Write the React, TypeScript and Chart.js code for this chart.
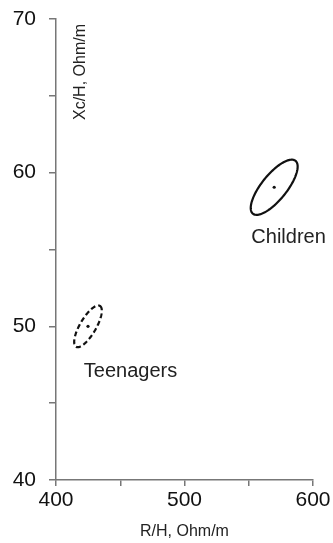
import React, { useEffect, useRef } from "react";
import { Chart, registerables } from "chart.js";

Chart.register(...registerables);

// Group labels and centres (R/H, Xc/H)
const groups = ["Children", "Teenagers"];
const centerR = [569.8, 424.9];
const centerXc = [59.05, 50.0];
// Ellipse half-axis vectors in data units
const majorR = [16.6, 9.3];
const majorXc = [1.72, 1.33];
const minorR = [7.6, 5.4];
const minorXc = [-0.52, -0.27];
// Label anchor positions (data units)
const labelR = [581, 458];
const labelXc = [55.75, 47.05];

const xTicksMin = 400;
const xTicksMax = 600;
const yTicksMin = 40;
const yTicksMax = 70;

const FONT = "'Liberation Sans', Arial, sans-serif";

const ellipsePlugin = {
  id: "ellipses",
  afterDatasetsDraw(chart: any) {
    const ctx = chart.ctx;
    const xs = chart.scales.x;
    const ys = chart.scales.y;
    ctx.save();
    for (let g = 0; g < groups.length; g++) {
      ctx.beginPath();
      const N = 120;
      for (let i = 0; i <= N; i++) {
        const t = (i / N) * Math.PI * 2;
        const r = centerR[g] + majorR[g] * Math.cos(t) + minorR[g] * Math.sin(t);
        const v = centerXc[g] + majorXc[g] * Math.cos(t) + minorXc[g] * Math.sin(t);
        const px = xs.getPixelForValue(r);
        const py = ys.getPixelForValue(v);
        if (i === 0) ctx.moveTo(px, py);
        else ctx.lineTo(px, py);
      }
      ctx.closePath();
      ctx.lineWidth = 2.2;
      ctx.strokeStyle = "#111";
      ctx.setLineDash(g === 1 ? [5, 3] : []);
      ctx.stroke();
    }
    ctx.setLineDash([]);
    ctx.fillStyle = "#222";
    ctx.font = `20px ${FONT}`;
    ctx.textAlign = "center";
    ctx.textBaseline = "middle";
    for (let g = 0; g < groups.length; g++) {
      ctx.fillText(groups[g], xs.getPixelForValue(labelR[g]), ys.getPixelForValue(labelXc[g]));
    }
    // axis titles
    const a = chart.chartArea;
    ctx.font = `16px ${FONT}`;
    ctx.fillText("R/H, Ohm/m", (a.left + a.right) / 2, a.bottom + 52);
    ctx.translate(a.left + 25, a.top + 53);
    ctx.rotate(-Math.PI / 2);
    ctx.fillText("Xc/H, Ohm/m", 0, 0);
    ctx.restore();
  },
};

export default function App() {
  const ref = useRef<HTMLCanvasElement>(null);
  useEffect(() => {
    if (!ref.current) return;
    const chart = new Chart(ref.current, {
      type: "scatter",
      data: {
        datasets: [
          {
            label: "centres",
            data: groups.map((_, i) => ({ x: centerR[i], y: centerXc[i] })),
            pointRadius: 1.6,
            pointBackgroundColor: "#111",
            pointBorderWidth: 0,
          },
        ],
      },
      options: {
        animation: false,
        responsive: true,
        maintainAspectRatio: false,
        layout: { padding: { top: 19, right: 20, left: 0, bottom: 0 } },
        plugins: { legend: { display: false }, tooltip: { enabled: false } },
        scales: {
          x: {
            type: "linear",
            min: xTicksMin,
            max: xTicksMax,
            border: { color: "#777", width: 1.5 },
            grid: { drawOnChartArea: false, tickLength: 6, color: "#777", lineWidth: 1.5 },
            ticks: {
              stepSize: 50,
              maxRotation: 0,
              padding: 2,
              color: "#111",
              font: { size: 21, family: FONT },
              callback: (v: any) => (Number(v) % 100 === 0 ? String(v) : ""),
            },
            afterFit: (s: any) => {
              s.height = 63;
            },
          },
          y: {
            type: "linear",
            min: yTicksMin,
            max: yTicksMax,
            border: { color: "#777", width: 1.5 },
            grid: { drawOnChartArea: false, tickLength: 7, color: "#777", lineWidth: 1.5 },
            ticks: {
              stepSize: 5,
              padding: 13,
              color: "#111",
              font: { size: 21, family: FONT },
              callback: (v: any) => (Number(v) % 10 === 0 ? String(v) : ""),
            },
            afterFit: (s: any) => {
              s.width = 56;
              s.paddingTop = 0;
              s.paddingBottom = 0;
            },
          },
        },
      },
      plugins: [ellipsePlugin],
    });
    return () => chart.destroy();
  }, []);
  return (
    <div style={{ position: "absolute", left: 0, top: 0, width: 333, height: 543, background: "#fff" }}>
      <canvas ref={ref} />
    </div>
  );
}
